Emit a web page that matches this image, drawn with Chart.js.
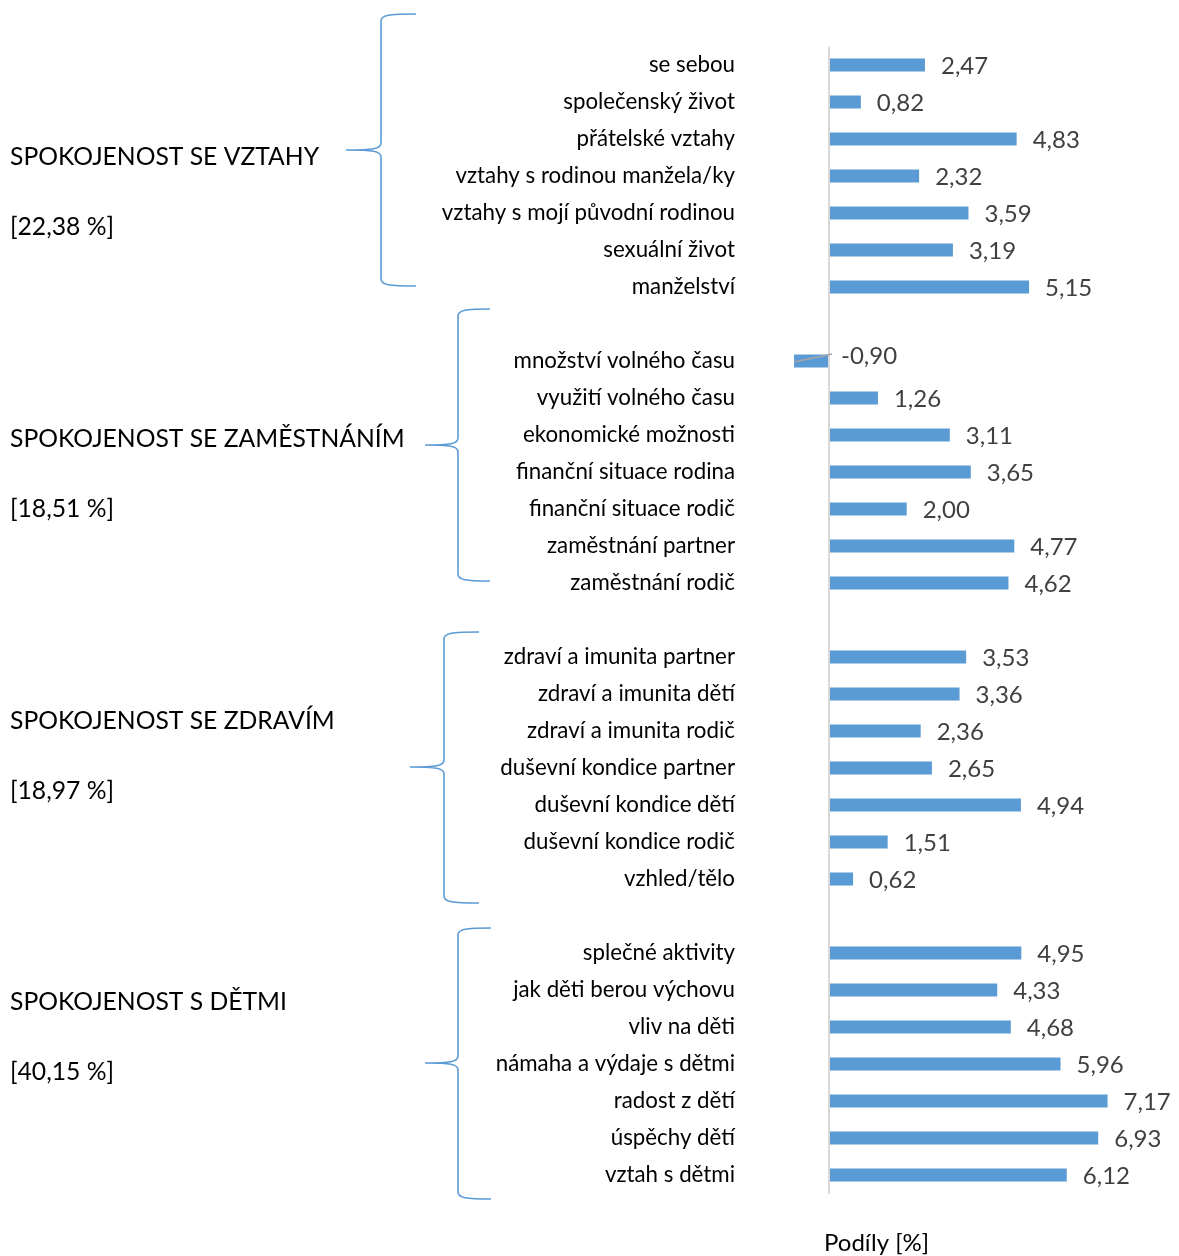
<!DOCTYPE html>
<html>
<head>
<meta charset="utf-8">
<script src="https://cdn.jsdelivr.net/npm/chart.js@4/dist/chart.umd.min.js"></script>
<style>
  html, body { margin: 0; padding: 0; background: #ffffff; }
  canvas { display: block; }
</style>
</head>
<body>
<canvas id="chart" width="1179" height="1256"></canvas>
<script>
// Item labels, top to bottom; '' marks the empty row between groups
const categories = [
  'se sebou', 'společenský život', 'přátelské vztahy', 'vztahy s rodinou manžela/ky',
  'vztahy s mojí původní rodinou', 'sexuální život', 'manželství',
  '',
  'množství volného času', 'využití volného času', 'ekonomické možnosti',
  'finanční situace rodina', 'finanční situace rodič', 'zaměstnání partner', 'zaměstnání rodič',
  '',
  'zdraví a imunita partner', 'zdraví a imunita dětí', 'zdraví a imunita rodič',
  'duševní kondice partner', 'duševní kondice dětí', 'duševní kondice rodič', 'vzhled/tělo',
  '',
  'splečné aktivity', 'jak děti berou výchovu', 'vliv na děti', 'námaha a výdaje s dětmi',
  'radost z dětí', 'úspěchy dětí', 'vztah s dětmi'
];

// Share of each item in percent (null for the spacer rows)
const shares = [
  2.47, 0.82, 4.83, 2.32, 3.59, 3.19, 5.15,
  null,
  -0.90, 1.26, 3.11, 3.65, 2.00, 4.77, 4.62,
  null,
  3.53, 3.36, 2.36, 2.65, 4.94, 1.51, 0.62,
  null,
  4.95, 4.33, 4.68, 5.96, 7.17, 6.93, 6.12
];

// Groups of items
const groupTitles = [
  'SPOKOJENOST SE VZTAHY',
  'SPOKOJENOST SE ZAMĚSTNÁNÍM',
  'SPOKOJENOST SE ZDRAVÍM',
  'SPOKOJENOST S DĚTMI'
];
const groupTotals = [22.38, 18.51, 18.97, 40.15];
const groupFirstRow = [0, 8, 16, 24];
const groupLastRow = [6, 14, 22, 30];

const axisTitle = 'Podíly [%]';

// Brace and caption placement per group (pixels, relative to the group's rows)
const braceStyle = [
  { spine: 381, tip: 346, end: 416, top: -51, bottom: -1, tipY: 85, title: 92 },
  { spine: 458, tip: 425, end: 490, top: -52, bottom: -2, tipY: 84, title: 78 },
  { spine: 444, tip: 410, end: 479, top: -25, bottom: 24, tipY: 110, title: 64 },
  { spine: 458, tip: 425, end: 491, top: -25, bottom: 24, tipY: 110, title: 49 }
];

const BLUE = '#5b9bd5';
const fmt = v => v.toFixed(2).replace('.', ',');

Chart.defaults.font.family = 'Lato, "Open Sans", sans-serif';

const decorations = {
  id: 'decorations',
  afterDatasetsDraw(chart) {
    const ctx = chart.ctx;
    const meta = chart.getDatasetMeta(0);
    ctx.save();
    ctx.font = '24px Lato';
    ctx.fillStyle = '#404040';
    ctx.textBaseline = 'middle';
    ctx.textAlign = 'left';
    meta.data.forEach((bar, i) => {
      const v = shares[i];
      if (v === null || v === undefined) return;
      if (v >= 0) {
        ctx.fillText(fmt(v), bar.x + 16, bar.y + 1.5);
      } else {
        // leader line from the bar to its label
        ctx.strokeStyle = '#a6a6a6';
        ctx.lineWidth = 1.5;
        ctx.beginPath();
        ctx.moveTo(bar.x, bar.y + 1);
        ctx.lineTo(bar.base + 4, bar.y - 7);
        ctx.stroke();
        ctx.fillText(fmt(v), bar.base + 13, bar.y - 5);
      }
    });
    ctx.restore();
  },
  afterDraw(chart) {
    const ctx = chart.ctx;
    const y = chart.scales.y;
    ctx.save();
    groupTitles.forEach((title, g) => {
      const s = braceStyle[g];
      const first = y.getPixelForValue(groupFirstRow[g]);
      const last = y.getPixelForValue(groupLastRow[g]);
      const top = first + s.top;
      const bottom = last + s.bottom;
      const tipY = first + s.tipY;
      const xs = s.spine, xt = s.tip, xe = s.end;
      const r = 7;
      ctx.strokeStyle = BLUE;
      ctx.lineWidth = 1.6;
      ctx.beginPath();
      ctx.moveTo(xe, top);
      ctx.bezierCurveTo(xs + 8, top, xs, top + 1, xs, top + r);
      ctx.lineTo(xs, tipY - r);
      ctx.bezierCurveTo(xs, tipY - 1, xs - 8, tipY, xt, tipY);
      ctx.moveTo(xt, tipY);
      ctx.bezierCurveTo(xs - 8, tipY, xs, tipY + 1, xs, tipY + r);
      ctx.lineTo(xs, bottom - r);
      ctx.bezierCurveTo(xs, bottom - 1, xs + 8, bottom, xe, bottom);
      ctx.stroke();

      ctx.fillStyle = '#000000';
      ctx.font = '24.7px Lato';
      ctx.textAlign = 'left';
      ctx.textBaseline = 'middle';
      ctx.fillText(title, 10, first + s.title);
      ctx.fillText('[' + fmt(groupTotals[g]) + ' %]', 10, first + s.title + 70);
    });
    // horizontal axis title
    ctx.fillStyle = '#000000';
    ctx.font = '24px Lato';
    ctx.textAlign = 'left';
    ctx.textBaseline = 'middle';
    ctx.fillText(axisTitle, 824, chart.chartArea.bottom + 50);
    ctx.restore();
  }
};

new Chart(document.getElementById('chart'), {
  type: 'bar',
  data: {
    labels: categories,
    datasets: [{
      data: shares,
      backgroundColor: BLUE,
      borderWidth: 0,
      categoryPercentage: 1,
      barPercentage: 0.35
    }]
  },
  options: {
    indexAxis: 'y',
    responsive: false,
    animation: false,
    devicePixelRatio: 1,
    layout: { padding: { top: 46.5, right: 39.2, bottom: 62.5, left: 0 } },
    plugins: { legend: { display: false }, tooltip: { enabled: false } },
    scales: {
      x: {
        min: -84 / 38.85,
        max: 8,
        ticks: { display: false, stepSize: 1 },
        border: { display: false },
        grid: {
          drawTicks: false,
          lineWidth: 2,
          color: c => (c.tick && c.tick.value === 0) ? '#d9d9d9' : 'rgba(0,0,0,0)'
        },
        afterFit: s => { s.height = 0; }
      },
      y: {
        grid: { display: false, drawTicks: false },
        border: { display: false },
        ticks: {
          padding: 10,
          color: '#000000',
          font: { size: 22.3, family: 'Lato' },
          autoSkip: false
        },
        afterFit: s => { s.width = 745; }
      }
    }
  },
  plugins: [decorations]
});
</script>
</body>
</html>
